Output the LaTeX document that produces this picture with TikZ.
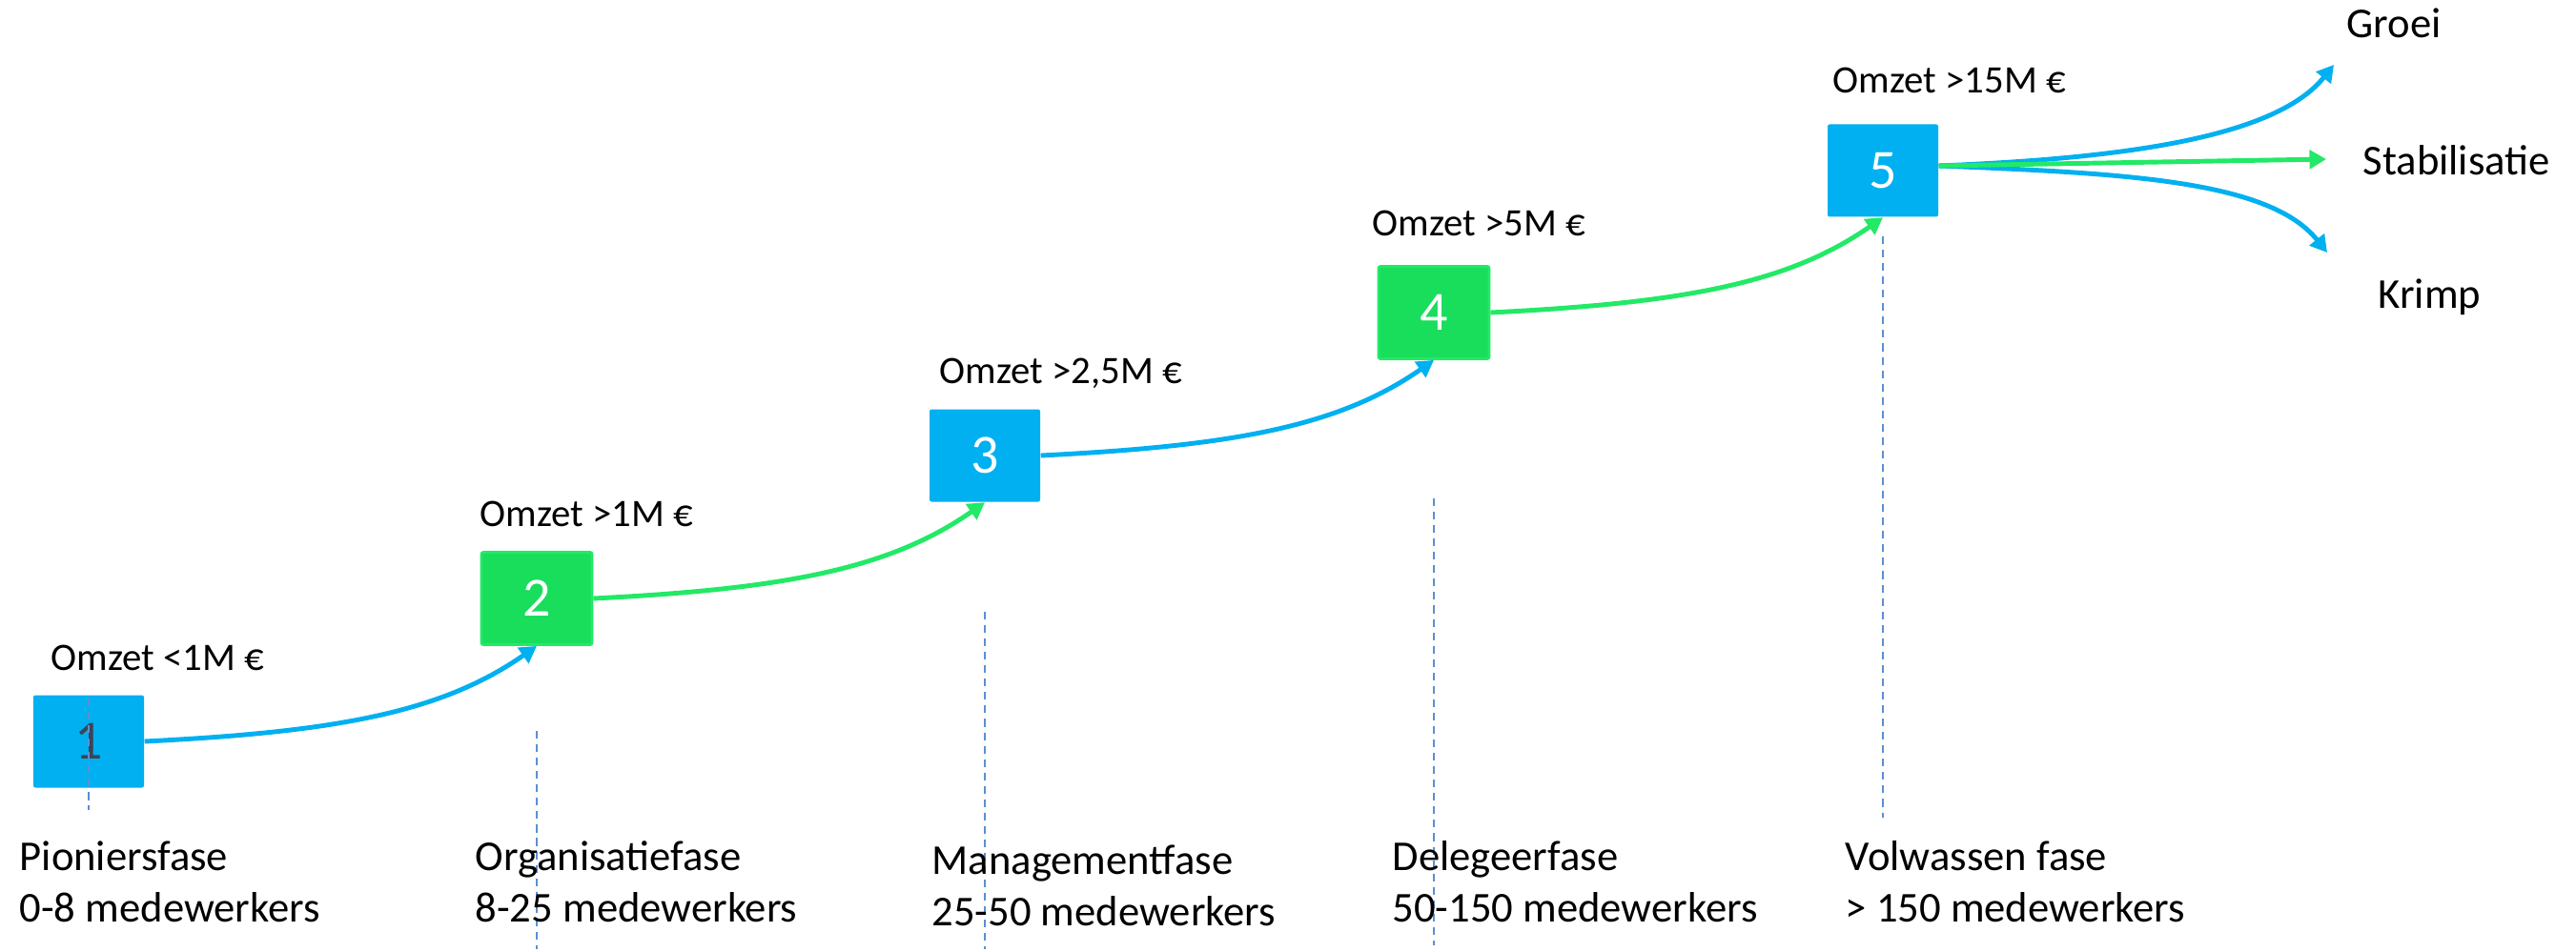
\documentclass[tikz,border=0pt]{standalone}
\usepackage{fontspec}
\setmainfont{Carlito}
\usetikzlibrary{
  arrows.meta,
  calc,
  positioning,
}
\definecolor{fasblue}{HTML}{00B0F0}
\definecolor{fasgreen}{RGB}{24,222,92}
\definecolor{fasgreenlt}{RGB}{34,233,102}
\definecolor{guideblue}{HTML}{5B8FD3}
\definecolor{digitdark}{HTML}{3A4557}
\tikzset{
  >={Triangle[length=5pt,width=5.5pt]},
  stage/.style={rectangle, rounded corners=0.6pt, minimum width=1.16cm,
    minimum height=0.97cm, inner sep=0pt, font=\fontsize{16.5}{18}\selectfont},
  bluestage/.style={stage, fill=fasblue},
  greenstage/.style={stage, fill=fasgreen, draw=fasgreenlt, line width=0.8pt},
  omzet/.style={anchor=base west, inner sep=0pt, font=\fontsize{11.6}{14}\selectfont},
  fase/.style={anchor=base west, inner sep=0pt, font=\fontsize{12.7}{15}\selectfont},
  flow/.style={->, line width=1.4pt},
  guide/.style={draw=guideblue, line width=0.6pt, dash pattern=on 2.3pt off 1.7pt},
}

\begin{document}
\begin{tikzpicture}
  \useasboundingbox (0,0) rectangle (27.02,9.98);

  % the five stages
  \foreach \i/\x/\y/\kind/\txt in {
    1/0.93/2.20/bluestage/digitdark,
    2/5.63/3.70/greenstage/white,
    3/10.33/5.20/bluestage/white,
    4/15.04/6.70/greenstage/white,
    5/19.75/8.19/bluestage/white} {
    \node[\kind, text=\txt] (b\i) at (\x,\y) {\i};
  }

  \foreach \i/\top/\bot in {1/2.65/1.48, 2/2.31/0.02, 3/3.56/0.02, 4/4.75/0.06, 5/7.50/1.40} {
    \draw[guide] (b\i.center |- 0,\top) -- (b\i.center |- 0,\bot);
  }

  \foreach \i/\x/\y/\A in {
    1/0.53/2.95/{Omzet <1M €},
    2/5.03/4.46/{Omzet >1M €},
    3/9.85/5.96/{Omzet >2,5M €},
    4/14.39/7.50/{Omzet >5M €},
    5/19.22/9.00/{Omzet >15M €}} {
    \node[omzet] (o\i) at (\x,\y) {\A};
  }

  \foreach \i/\x/\y/\A/\B in {
    1/0.20/0.85/Pioniersfase/0-8 medewerkers,
    2/4.98/0.85/Organisatiefase/8-25 medewerkers,
    3/9.77/0.81/Managementfase/25-50 medewerkers,
    4/14.60/0.85/Delegeerfase/50-150 medewerkers,
    5/19.35/0.85/Volwassen fase/> 150 medewerkers} {
    \node[fase] (f\i) at (\x,\y) {\A};
    \node[fase] (m\i) at ($(f\i.base west)+(0,-0.54)$) {\B};
  }

  \foreach \i/\j/\col in {1/2/fasblue, 2/3/fasgreenlt, 3/4/fasblue, 4/5/fasgreenlt} {
    \draw[flow, \col] (b\i.east) .. controls +(2.0,0.1) and +(-1.0,-0.7) .. (b\j.south);
  }

  % what comes after stage 5
  \node[fase] (groei) at (24.61,9.58) {Groei};
  \node[fase] (stab) at (24.78,8.14) {Stabilisatie};
  \node[fase] (krimp) at (24.94,6.75) {Krimp};
  \coordinate (tGroei) at (24.48,9.30);
  \coordinate (tStab) at (24.40,8.31);
  \coordinate (tKrimp) at (24.41,7.33);
  \coordinate (s5) at ($(b5.east)+(0,0.05)$);
  \draw[flow, fasblue] (s5) .. controls +(2.0,0.08) and +(-0.6,-0.75) .. (tGroei);
  \draw[flow, fasblue] (s5) .. controls +(2.0,-0.08) and +(-0.6,0.75) .. (tKrimp);
  \draw[flow, fasgreenlt] (s5) -- (tStab);
\end{tikzpicture}
\end{document}
